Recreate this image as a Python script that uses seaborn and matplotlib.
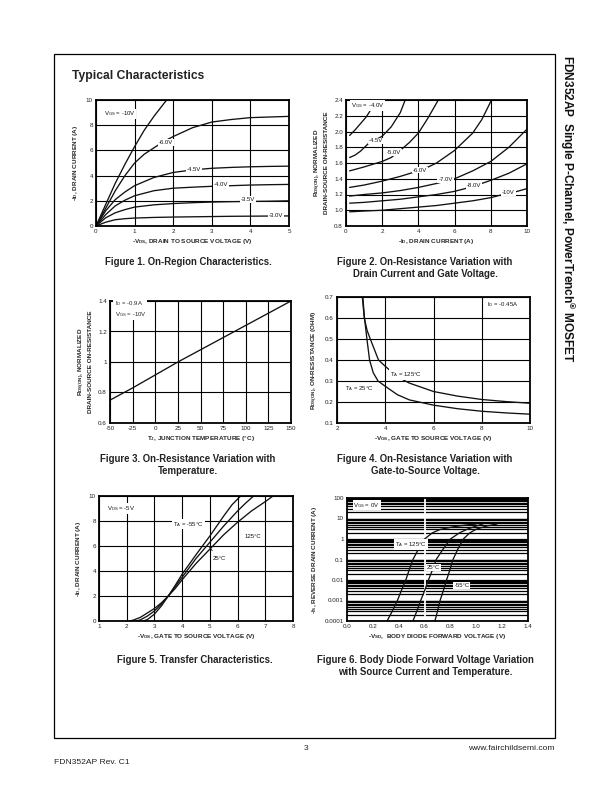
import numpy as np
import pandas as pd
import matplotlib
matplotlib.use("Agg")
import matplotlib.pyplot as plt
import seaborn as sns
from matplotlib.patches import Rectangle
from matplotlib.ticker import MultipleLocator, LogLocator, NullFormatter, FixedLocator

sns.set_style("white")
plt.rcParams['font.family'] = ['Liberation Sans', 'DejaVu Sans']
plt.rcParams['mathtext.default'] = 'regular'
plt.rcParams['axes.unicode_minus'] = False

# ---------------- Figure 1 data: On-region characteristics ----------------
f1_x = [0, 0.25, 0.5, 0.75, 1.0, 1.5, 2.0, 2.5, 3.0, 3.5, 4.0, 4.5, 5.0]
f1_x_10 = [0, 0.25, 0.5, 0.75, 1.0, 1.25, 1.5, 1.83]
f1_y_10 = [0, 1.7, 3.4, 4.9, 6.3, 7.6, 8.7, 10.0]
f1_x_6 = [0, 0.25, 0.5, 0.75, 1.0, 1.25, 1.5, 1.75, 2.0, 2.5, 3.0, 3.5, 4.0, 4.5, 5.0]
f1_y_6 = [0, 1.4, 2.8, 4.0, 5.0, 5.7, 6.2, 6.7, 7.1, 7.8, 8.25, 8.45, 8.6, 8.65, 8.7]
f1_y_45 = [0, 1.2, 2.1, 2.7, 3.2, 3.85, 4.25, 4.45, 4.58, 4.65, 4.7, 4.73, 4.75]
f1_y_4 = [0, 0.9, 1.6, 2.05, 2.4, 2.8, 3.0, 3.08, 3.15, 3.2, 3.25, 3.28, 3.3]
f1_y_35 = [0, 0.65, 1.05, 1.3, 1.5, 1.68, 1.78, 1.85, 1.9, 1.93, 1.95, 1.97, 2.0]
f1_y_3 = [0, 0.3, 0.5, 0.58, 0.63, 0.68, 0.71, 0.73, 0.75, 0.77, 0.78, 0.79, 0.8]

# ---------------- Figure 2 data: normalized R vs drain current ----------------
f2_x_40 = [0.2, 0.5, 0.8, 1.1, 1.3, 1.45]
f2_y_40 = [1.95, 2.02, 2.1, 2.18, 2.25, 2.32]
f2_x_45 = [0.2, 0.5, 0.8, 1.25, 1.6, 2.0, 2.5, 3.0, 3.27]
f2_y_45 = [1.67, 1.70, 1.75, 1.85, 1.89, 1.94, 2.06, 2.24, 2.4]
f2_x_50 = [0.2, 1.0, 2.0, 2.5, 3.0, 3.5, 4.0, 4.5, 5.1]
f2_y_50 = [1.50, 1.55, 1.62, 1.67, 1.76, 1.86, 1.98, 2.16, 2.4]
f2_x_60 = [0.2, 1.0, 2.0, 3.0, 3.7, 4.55, 5.0, 6.0, 7.0, 7.5, 8.04]
f2_y_60 = [1.29, 1.32, 1.37, 1.43, 1.48, 1.55, 1.6, 1.76, 1.98, 2.15, 2.4]
f2_x_70 = [0.2, 1.0, 2.0, 3.0, 4.0, 5.0, 5.5, 6.1, 7.0, 8.0, 9.0, 10.0]
f2_y_70 = [1.18, 1.2, 1.22, 1.25, 1.29, 1.34, 1.37, 1.41, 1.5, 1.62, 1.8, 2.03]
f2_x_80 = [0.2, 1.0, 2.0, 3.0, 4.0, 5.0, 6.0, 7.0, 7.5, 8.0, 9.0, 10.0]
f2_y_80 = [1.09, 1.1, 1.12, 1.14, 1.17, 1.2, 1.24, 1.3, 1.34, 1.38, 1.47, 1.59]
f2_x_10 = [0.2, 1.0, 2.0, 3.0, 4.0, 5.0, 6.0, 7.0, 8.0, 8.5, 9.0, 10.0]
f2_y_10 = [0.98, 0.99, 1.0, 1.02, 1.04, 1.06, 1.09, 1.12, 1.16, 1.19, 1.21, 1.275]

# ---------------- Figure 3 data: R vs temperature ----------------
f3_temp = [-50, -25, 0, 25, 50, 75, 100, 125, 150]
f3_r = [0.75, 0.83, 0.915, 1.0, 1.08, 1.16, 1.24, 1.32, 1.40]

# ---------------- Figure 4 data: R vs gate voltage ----------------
f4_x_125 = [3.05, 3.13, 3.25, 3.38, 3.55, 3.72, 4.0, 4.5, 5.0, 6.0, 7.0, 8.0, 9.0, 10.0]
f4_y_125 = [0.70, 0.60, 0.54, 0.50, 0.45, 0.40, 0.37, 0.32, 0.29, 0.25, 0.228, 0.212, 0.202, 0.194]
f4_x_25 = [3.07, 3.14, 3.24, 3.35, 3.5, 3.7, 4.0, 4.5, 5.0, 6.0, 7.0, 8.0, 9.0, 10.0]
f4_y_25 = [0.70, 0.60, 0.50, 0.40, 0.34, 0.30, 0.275, 0.235, 0.21, 0.185, 0.168, 0.156, 0.148, 0.142]

# ---------------- Figure 5 data: transfer characteristics ----------------
f5_x_m55 = [2.6, 2.75, 3.0, 3.25, 3.5, 3.75, 4.0, 4.5, 5.0, 5.5, 5.8, 6.11]
f5_y_m55 = [0.0, 0.12, 0.55, 1.2, 2.0, 2.85, 3.75, 5.3, 6.8, 8.4, 9.3, 10.0]
f5_x_25 = [2.35, 2.5, 2.75, 3.0, 3.25, 3.5, 3.75, 4.0, 4.5, 5.0, 5.5, 6.0, 6.3, 6.58]
f5_y_25 = [0.0, 0.1, 0.4, 0.8, 1.35, 2.0, 2.75, 3.5, 5.0, 6.3, 7.6, 8.8, 9.45, 10.0]
f5_x_125 = [2.1, 2.25, 2.5, 2.75, 3.0, 3.25, 3.5, 3.75, 4.0, 4.5, 5.0, 5.5, 6.0, 6.5, 7.0, 7.28]
f5_y_125 = [0.0, 0.08, 0.3, 0.65, 1.0, 1.45, 2.0, 2.6, 3.3, 4.6, 5.75, 6.9, 7.9, 8.8, 9.55, 10.0]

# ---------------- Figure 6 data: body diode ----------------
f6_v_125 = [0.31, 0.35, 0.39, 0.42, 0.455, 0.48, 0.51, 0.55, 0.60, 0.66, 0.72, 0.77, 0.85, 0.92, 1.0]
f6_i_125 = [1e-4, 3e-4, 1e-3, 3e-3, 1e-2, 3e-2, 0.1, 0.3, 1, 2, 2.9, 3.4, 4.2, 4.8, 5.4]
f6_v_25 = [0.51, 0.54, 0.57, 0.60, 0.63, 0.66, 0.69, 0.74, 0.80, 0.87, 0.93, 1.0, 1.05]
f6_i_25 = [1e-4, 3e-4, 1e-3, 3e-3, 1e-2, 3e-2, 0.1, 0.3, 1, 2, 3, 4.3, 5.4]
f6_v_m55 = [0.68, 0.70, 0.72, 0.745, 0.77, 0.795, 0.82, 0.855, 0.90, 0.95, 1.0, 1.08, 1.16]
f6_i_m55 = [1e-4, 3e-4, 1e-3, 3e-3, 1e-2, 3e-2, 0.1, 0.3, 1, 2, 3, 4.3, 5.4]

W, H = 612, 792
fig = plt.figure(figsize=(W / 100, H / 100), dpi=100)
fig.patch.set_facecolor('white')


def ax_at(x0, y0, x1, y1):
    return fig.add_axes([x0 / W, 1 - y1 / H, (x1 - x0) / W, (y1 - y0) / H])


TICK_FS = 4.5
LAB_FS = 4.6
ANN_FS = 4.3
LW = 0.95


def style(ax):
    ax.set_axisbelow(True)
    for s in ax.spines.values():
        s.set_visible(True)
        s.set_linewidth(1.3)
        s.set_color('black')
    ax.tick_params(which='both', labelsize=TICK_FS, colors='#222222', length=0, pad=2.2)
    ax.grid(True, which='major', color='black', lw=0.8)


def curve(ax, x, y):
    sns.lineplot(x=x, y=y, ax=ax, color='#111111', lw=LW, sort=False, estimator=None)


def note(ax, x, y, s, **kw):
    ax.text(x, y, s, fontsize=ANN_FS, color='#111111', zorder=6, va='center',
            bbox=dict(boxstyle='square,pad=0.15', fc='white', ec='none'), **kw)


def minor_in(ax, xm=None, ym=None):
    if xm:
        ax.xaxis.set_minor_locator(MultipleLocator(xm))
    if ym:
        ax.yaxis.set_minor_locator(MultipleLocator(ym))
    ax.tick_params(which='minor', direction='in', length=2, width=0.6, colors='black')


# ---- Fig 1 ----
ax1 = ax_at(96, 100, 289, 226)
curve(ax1, f1_x_10, f1_y_10)
curve(ax1, f1_x_6, f1_y_6)
for yy in (f1_y_45, f1_y_4, f1_y_35, f1_y_3):
    curve(ax1, f1_x, yy)
ax1.set_xlim(0, 5); ax1.set_ylim(0, 10)
ax1.set_xticks(range(0, 6)); ax1.set_yticks(range(0, 11, 2))
style(ax1); minor_in(ax1, 0.5, 1)
ax1.set_xlabel('-V$_{DS}$, DRAIN TO SOURCE VOLTAGE (V)', fontsize=LAB_FS, fontweight='bold', labelpad=2)
ax1.set_ylabel('-I$_D$, DRAIN CURRENT (A)', fontsize=LAB_FS, fontweight='bold', labelpad=4)
note(ax1, 0.2, 8.9, 'V$_{GS}$ = -10V')
note(ax1, 1.62, 6.6, '-6.0V')
note(ax1, 2.35, 4.5, '-4.5V')
note(ax1, 3.06, 3.3, '-4.0V')
note(ax1, 3.75, 2.1, '-3.5V')
note(ax1, 4.48, 0.85, '-3.0V')

# ---- Fig 2 ----
ax2 = ax_at(346, 100, 527, 226)
for xx, yy in ((f2_x_40, f2_y_40), (f2_x_45, f2_y_45), (f2_x_50, f2_y_50), (f2_x_60, f2_y_60),
               (f2_x_70, f2_y_70), (f2_x_80, f2_y_80), (f2_x_10, f2_y_10)):
    curve(ax2, xx, yy)
ax2.set_xlim(0, 10); ax2.set_ylim(0.8, 2.4)
ax2.set_xticks(range(0, 11, 2)); ax2.set_yticks(np.round(np.arange(0.8, 2.41, 0.2), 1))
ax2.set_yticklabels(['0.8', '1.0', '1.2', '1.4', '1.6', '1.8', '2.0', '2.2', '2.4'])
style(ax2)
ax2.set_xlabel('-I$_D$, DRAIN CURRENT (A)', fontsize=LAB_FS, fontweight='bold', labelpad=2)
ax2.set_ylabel('R$_{DS(ON)}$, NORMALIZED\nDRAIN-SOURCE ON-RESISTANCE', fontsize=LAB_FS,
               fontweight='bold', labelpad=4, linespacing=1.1)
note(ax2, 0.28, 2.33, 'V$_{GS}$ = -4.0V')
note(ax2, 1.28, 1.88, '-4.5V')
note(ax2, 2.26, 1.73, '-5.0V')
note(ax2, 3.67, 1.51, '-6.0V')
note(ax2, 5.1, 1.39, '-7.0V')
note(ax2, 6.66, 1.31, '-8.0V')
note(ax2, 8.62, 1.22, '-10V')

# ---- Fig 3 ----
ax3 = ax_at(110, 301, 291, 423)
curve(ax3, f3_temp, f3_r)
ax3.set_xlim(-50, 150); ax3.set_ylim(0.6, 1.4)
ax3.set_xticks(range(-50, 151, 25)); ax3.set_yticks([0.6, 0.8, 1.0, 1.2, 1.4])
ax3.set_yticklabels(['0.6', '0.8', '1', '1.2', '1.4'])
style(ax3); minor_in(ax3, 5, 0.05)
ax3.set_xlabel('T$_J$, JUNCTION TEMPERATURE (°C)', fontsize=LAB_FS, fontweight='bold', labelpad=2)
ax3.set_ylabel('R$_{DS(ON)}$, NORMALIZED\nDRAIN-SOURCE ON-RESISTANCE', fontsize=LAB_FS,
               fontweight='bold', labelpad=4, linespacing=1.1)
ax3.text(-45, 1.345, 'I$_D$ = -0.9A\nV$_{GS}$ = -10V', fontsize=ANN_FS, va='center', linespacing=1.3,
         bbox=dict(boxstyle='square,pad=0.2', fc='white', ec='none'), zorder=6)

# ---- Fig 4 ----
ax4 = ax_at(337, 297, 530, 423)
curve(ax4, f4_x_125, f4_y_125)
curve(ax4, f4_x_25, f4_y_25)
ax4.set_xlim(2, 10); ax4.set_ylim(0.1, 0.7)
ax4.set_xticks(range(2, 11, 2)); ax4.set_yticks(np.round(np.arange(0.1, 0.71, 0.1), 1))
style(ax4)
ax4.set_xlabel('-V$_{GS}$, GATE TO SOURCE VOLTAGE (V)', fontsize=LAB_FS, fontweight='bold', labelpad=2)
ax4.set_ylabel('R$_{DS(ON)}$, ON-RESISTANCE (OHM)', fontsize=LAB_FS, fontweight='bold', labelpad=4)
note(ax4, 4.2, 0.33, 'T$_A$ = 125°C')
note(ax4, 2.35, 0.265, 'T$_A$ = 25°C')
note(ax4, 8.2, 0.665, 'I$_D$ = -0.45A')

# ---- Fig 5 ----
ax5 = ax_at(99, 496, 293, 621)
curve(ax5, f5_x_m55, f5_y_m55)
curve(ax5, f5_x_25, f5_y_25)
curve(ax5, f5_x_125, f5_y_125)
ax5.set_xlim(1, 8); ax5.set_ylim(0, 10)
ax5.set_xticks(range(1, 9)); ax5.set_yticks(range(0, 11, 2))
style(ax5); minor_in(ax5, 0.5, 1)
ax5.set_xlabel('-V$_{GS}$, GATE TO SOURCE VOLTAGE (V)', fontsize=LAB_FS, fontweight='bold', labelpad=2)
ax5.set_ylabel('-I$_D$, DRAIN CURRENT (A)', fontsize=LAB_FS, fontweight='bold', labelpad=4)
note(ax5, 1.3, 9.0, 'V$_{DS}$ = -5V')
note(ax5, 3.68, 7.75, 'T$_A$ = -55°C')
note(ax5, 6.26, 6.8, '125°C')
note(ax5, 5.1, 5.0, '25°C')
ax5.annotate('', xy=(4.9, 6.15), xytext=(5.15, 5.45),
             arrowprops=dict(arrowstyle='-', color='#111111', lw=0.6))

# ---- Fig 6 ----
ax6 = ax_at(347, 498, 528, 621)
curve(ax6, f6_v_125, f6_i_125)
curve(ax6, f6_v_25, f6_i_25)
curve(ax6, f6_v_m55, f6_i_m55)
ax6.set_yscale('log')
ax6.set_xlim(0, 1.4); ax6.set_ylim(1e-4, 100)
ax6.set_xticks(np.round(np.arange(0, 1.41, 0.2), 1))
ax6.set_xticklabels(['0.0', '0.2', '0.4', '0.6', '0.8', '1.0', '1.2', '1.4'])
ax6.set_yticks([1e-4, 1e-3, 1e-2, 1e-1, 1, 10, 100])
ax6.set_yticklabels(['0.0001', '0.001', '0.01', '0.1', '1', '10', '100'])
ax6.yaxis.set_minor_locator(LogLocator(base=10, subs=np.arange(2, 10)))
ax6.yaxis.set_minor_formatter(NullFormatter())
style(ax6)
ax6.grid(False)
ax6.grid(True, which='both', axis='y', color='black', lw=0.9)
ax6.axvline(0.6, color='white', lw=1.3, zorder=1.5)
ax6.set_xlabel('-V$_{SD}$,  BODY DIODE FORWARD VOLTAGE (V)', fontsize=LAB_FS, fontweight='bold', labelpad=2)
ax6.set_ylabel('-I$_S$, REVERSE DRAIN CURRENT (A)', fontsize=LAB_FS, fontweight='bold', labelpad=4)
note(ax6, 0.05, 45, 'V$_{GS}$ = 0V')
note(ax6, 0.37, 0.52, 'T$_A$ = 125°C')
note(ax6, 0.62, 0.041, '25°C')
note(ax6, 0.83, 0.0054, '-55°C')

# ---------------- page furniture ----------------
fig.add_artist(Rectangle((54 / W, 1 - 738 / H), (555 - 54) / W, (738 - 54) / H,
                         transform=fig.transFigure, fill=False, lw=0.9, ec='black'))
fig.text(72 / W, 1 - 76 / H, 'Typical Characteristics', fontsize=8.7, fontweight='bold',
         va='center', ha='left', color='#222222')

CAP_FS = 6.9
caps = [
    (188, [262], ['Figure 1. On-Region Characteristics.']),
    (425, [262, 274], ['Figure 2. On-Resistance Variation with', 'Drain Current and Gate Voltage.']),
    (188, [459, 471], ['Figure 3. On-Resistance Variation with', 'Temperature.']),
    (425, [459, 471], ['Figure 4. On-Resistance Variation with', 'Gate-to-Source Voltage.']),
    (195, [660], ['Figure 5. Transfer Characteristics.']),
    (425, [660, 672], ['Figure 6. Body Diode Forward Voltage Variation',
                       'with Source Current and Temperature.']),
]
for cx, ys, lines in caps:
    for yy, ln in zip(ys, lines):
        fig.text(cx / W, 1 - yy / H, ln, fontsize=CAP_FS, fontweight='bold', ha='center',
                 va='center', color='#222222')

fig.text(567 / W, 1 - 55 / H, 'FDN352AP  Single P-Channel, PowerTrench$^{®}$ MOSFET',
         fontsize=8.6, fontweight='bold', rotation=270, ha='center', va='top', color='#111111')
fig.text(54 / W, 1 - 762 / H, 'FDN352AP Rev. C1', fontsize=6.1, ha='left', va='center', color='#222222')
fig.text(306 / W, 1 - 749 / H, '3', fontsize=6.1, ha='center', va='center', color='#222222')
fig.text(555 / W, 1 - 749 / H, 'www.fairchildsemi.com', fontsize=6.1, ha='right', va='center', color='#222222')

fig.savefig('out.png', dpi=100, facecolor='white')
